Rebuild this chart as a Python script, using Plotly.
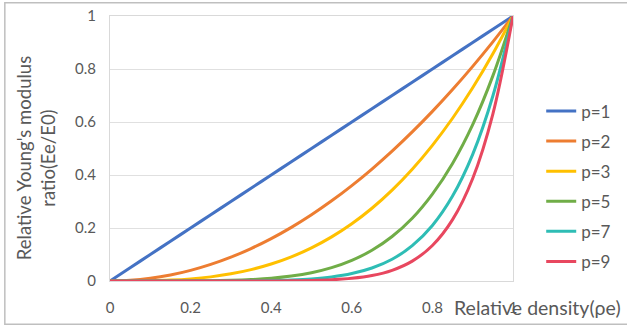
import plotly.graph_objects as go

x_vals = [0, 0.05, 0.1, 0.15, 0.2, 0.25, 0.3, 0.35, 0.4, 0.45, 0.5,
          0.55, 0.6, 0.65, 0.7, 0.75, 0.8, 0.85, 0.9, 0.95, 1.0]
p1 = [0, 0.05, 0.1, 0.15, 0.2, 0.25, 0.3, 0.35, 0.4, 0.45, 0.5,
      0.55, 0.6, 0.65, 0.7, 0.75, 0.8, 0.85, 0.9, 0.95, 1.0]
p2 = [0, 0.0025, 0.01, 0.0225, 0.04, 0.0625, 0.09, 0.1225, 0.16, 0.2025, 0.25,
      0.3025, 0.36, 0.4225, 0.49, 0.5625, 0.64, 0.7225, 0.81, 0.9025, 1.0]
p3 = [0, 0.0001, 0.001, 0.0034, 0.008, 0.0156, 0.027, 0.0429, 0.064, 0.0911, 0.125,
      0.1664, 0.216, 0.2746, 0.343, 0.4219, 0.512, 0.6141, 0.729, 0.8574, 1.0]
p5 = [0, 0.0, 0.00001, 0.00008, 0.00032, 0.00098, 0.00243, 0.00525, 0.01024, 0.01845, 0.03125,
      0.0503, 0.0778, 0.116, 0.168, 0.237, 0.328, 0.4437, 0.59, 0.774, 1.0]
p7 = [0, 0.0, 0.0, 0.0, 0.00001, 0.00006, 0.0002, 0.00064, 0.0016, 0.0037, 0.0078,
      0.0152, 0.028, 0.049, 0.082, 0.1335, 0.2097, 0.3206, 0.478, 0.698, 1.0]
p9 = [0, 0.0, 0.0, 0.0, 0.0, 0.0, 0.00002, 0.00008, 0.00026, 0.00076, 0.00195,
      0.0046, 0.0101, 0.0207, 0.0404, 0.0751, 0.134, 0.2316, 0.387, 0.63, 1.0]

series_names = ["p=1", "p=2", "p=3", "p=5", "p=7", "p=9"]
series_vals = [p1, p2, p3, p5, p7, p9]
colors = ["#4472C4", "#ED7D31", "#FFC000", "#70AD47", "#2EBDB5", "#E8475F"]

x_ticks = [0, 0.2, 0.4, 0.6, 0.8, 1]
x_tick_text = ["0", "0.2", "0.4", "0.6", "0.8", "1"]
y_ticks = [0, 0.2, 0.4, 0.6, 0.8, 1]
y_tick_text = ["0", "0.2", "0.4", "0.6", "0.8", "1"]

FONT = "Lato, 'Liberation Sans', sans-serif"
GRAY = "#595959"

fig = go.Figure()
for name, vals, c in zip(series_names, series_vals, colors):
    fig.add_trace(go.Scatter(
        x=x_vals, y=vals, name=name, mode="lines",
        line=dict(color=c, width=3, shape="spline", smoothing=1.0),
        legendgroup=name,
    ))

fig.update_layout(
    width=627, height=326,
    margin=dict(l=110, r=114, t=16, b=45, autoexpand=False),
    paper_bgcolor="white", plot_bgcolor="white",
    font=dict(family=FONT, color=GRAY, size=15),
    showlegend=True,
    legend=dict(x=1.07, y=0.357, xanchor="left", yanchor="middle",
                font=dict(size=17, color=GRAY), tracegroupgap=5,
                bgcolor="rgba(0,0,0,0)"),
    xaxis=dict(range=[0, 1], tickvals=x_ticks, ticktext=x_tick_text,
               showgrid=False, zeroline=False, showline=True,
               linecolor="#d9d9d9", mirror=True, ticks="",
               ticklabelstandoff=13,
               tickfont=dict(size=15, color=GRAY)),
    yaxis=dict(range=[0, 1], tickvals=y_ticks, ticktext=y_tick_text,
               showgrid=True, gridcolor="#e0e0e0", gridwidth=1,
               zeroline=False, showline=True, linecolor="#d9d9d9",
               mirror=True, ticks="", ticklabelstandoff=10,
               tickfont=dict(size=15, color=GRAY)),
    shapes=[dict(type="rect", xref="paper", yref="paper",
                 x0=-0.261, x1=1.3, y0=-0.163, y1=1.05,
                 line=dict(color="#bfbfbf", width=1.5), layer="below")],
    annotations=[
        dict(text="Relative density(ρe)", xref="paper", yref="paper",
             x=1.06, y=-0.1, xanchor="center", yanchor="middle",
             showarrow=False, font=dict(size=19.5, color=GRAY)),
        dict(text="Relative Young's modulus<br>ratio(Ee/E0)", xref="paper",
             yref="paper", x=-0.185, y=0.465, xanchor="center",
             yanchor="middle", textangle=-90, showarrow=False,
             font=dict(size=18.5, color=GRAY)),
    ],
)

fig.write_html("out.html", config={"displayModeBar": False},
               post_script="document.body.style.margin='0';document.body.style.overflow='hidden';")
